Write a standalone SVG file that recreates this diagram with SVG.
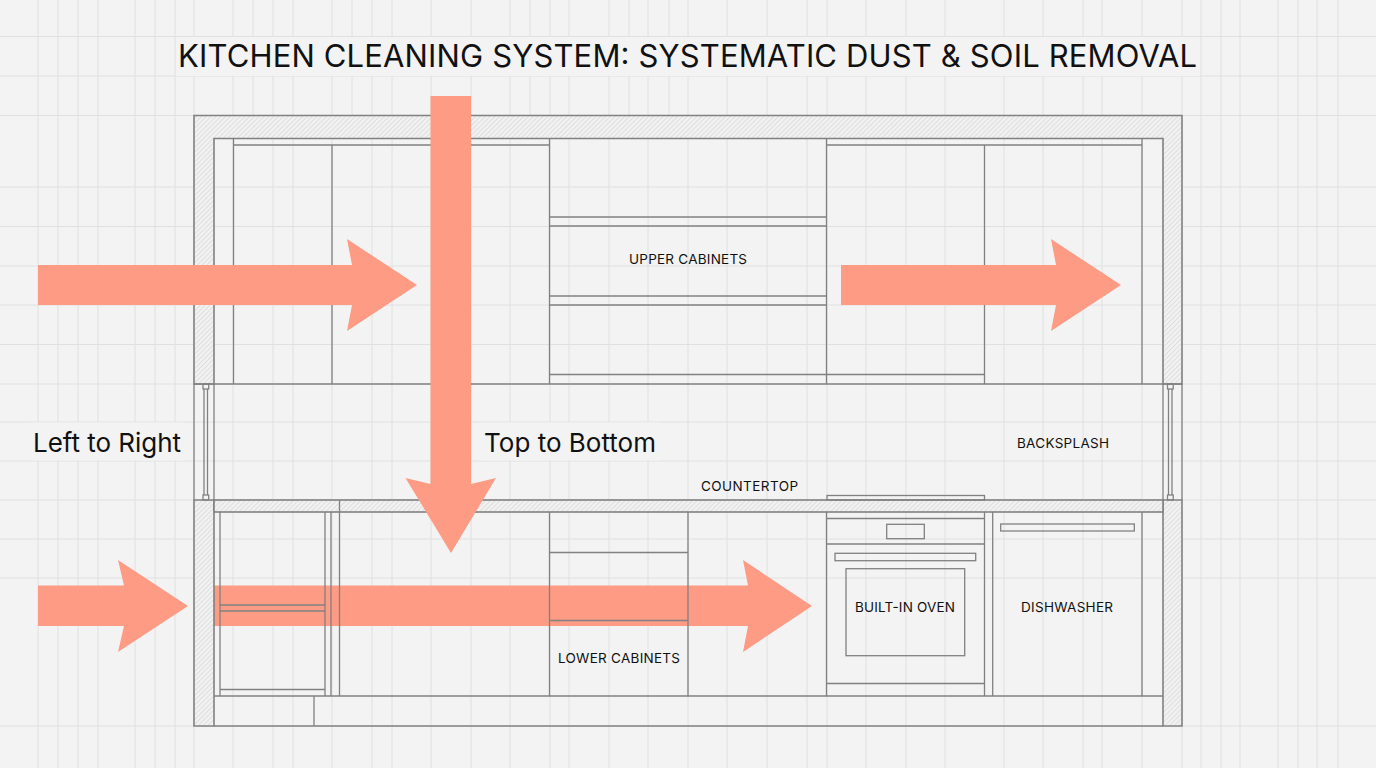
<svg xmlns="http://www.w3.org/2000/svg" width="1376" height="768" viewBox="0 0 1376 768">
<style>
.g{stroke:#e0e0e0;stroke-width:1;fill:none}
.l{stroke:#818181;stroke-width:1.3;fill:none}
.w{stroke:#818181;stroke-width:1.6;fill:url(#hatch)}
.a{fill:#fd9b84}
text{font-family:"Inter","Liberation Sans",sans-serif;fill:#111}
.s{font-size:13.500px;text-anchor:middle}
.m{font-size:26px}
.bg{fill:#f3f3f3}
</style>
<defs>
<pattern id="hatch" width="3.4" height="3.4" patternUnits="userSpaceOnUse" patternTransform="rotate(45)">
<rect width="3.4" height="3.4" fill="#f1f1f1"/><line x1="0" y1="0" x2="0" y2="3.4" stroke="#cecece" stroke-width="1"/>
</pattern>
</defs>
<rect width="1376" height="768" fill="#f3f3f3"/>
<g id="grid" class="g">
<path d="M38 0V768M58 0V768M78 0V768M98 0V768M135 0V768M155 0V768M175 0V768M194 0V768M233 0V768M273 0V768M293 0V768M332 0V768M372 0V768M392 0V768M431 0V768M471 0V768M510 0V768M550 0V768M569 0V768M609 0V768M648 0V768M688 0V768M727 0V768M767 0V768M807 0V768M827 0V768M866 0V768M906 0V768M945 0V768M1004 0V768M1043 0V768M1083 0V768M1102 0V768M1142 0V768M1182 0V768M1201 0V768M1221 0V768M1240 0V768M1278 0V768M1298 0V768M1317 0V768M1338 0V768"/>
<path d="M253 0V115M352 0V115M530 0V115M629 0V115M669 0V115"/>
<path d="M0 36.500H1376M0 76H1376M0 115.500H1376M0 187H1376M0 226.500H1376M0 266H1376M0 305H1376M0 344.500H1376M0 384H1376M0 422H1376M0 461H1376M0 500H1376M0 539H1376M0 578H1376M0 726H1376"/>
</g>
<rect class="bg" x="176" y="37" width="1024" height="39"/>
<rect class="bg" x="30" y="422.500" width="154" height="38"/>
<rect class="bg" x="481" y="422.500" width="178" height="38"/>
<g id="lower-pass-arrow"><polygon class="a" points="214,585.500 748,585.500 743,560 812,606 743,652 748,626 214,626"/></g>
<g id="walls">
<path class="w" fill-rule="evenodd" d="M194 115.500H1182V384H1163V138.500H214V384H194Z"/>
<path class="w" d="M194 500H214V726H194Z"/>
<path class="w" d="M1163 500H1182V726H1163Z"/>
<rect class="w" x="214" y="500" width="949" height="12"/>
<path class="l" d="M194 384H1182M194 384V500M214 384V500M1163 384V500M1182 384V500M214 726H1163M214 696H1163M314 696V726"/>
</g>
<g id="window-left" class="l"><path d="M204 389V495M207.500 389V495"/><rect x="203" y="384" width="5.700" height="5"/><rect x="203" y="495" width="5.700" height="5"/></g>
<g id="window-right" class="l"><path d="M1168.500 389V495M1172 389V495"/><rect x="1167.500" y="384" width="5.700" height="5"/><rect x="1167.500" y="495" width="5.700" height="5"/></g>
<g id="upper-cabinets" class="l">
<path d="M233.500 145H549.500M827 145H1142M233.500 138.500V384M332 145V384M549.500 138.500V384M826.500 138.500V384M984.500 145V384M1142 138.500V384"/>
<path d="M549.500 217H826.500M549.500 226H826.500M549.500 296H826.500M549.500 305H826.500M549.500 374.500H984.500"/>
</g>
<g id="lower-cabinets" class="l">
<path d="M220 512V696M325 512V696M331 512V696M339.500 500V696M220 605H325M220 611H325M220 689.500H325"/>
<path d="M549.500 512V696M688 512V696M549.500 552.500H688M549.500 620.500H688"/>
</g>
<g id="oven" class="l">
<path d="M826.500 512V696M984.500 512V696M826.500 518.500H984.500M826.500 544H984.500M826.500 683.500H984.500"/>
<rect x="827" y="495.500" width="157.500" height="4.500"/>
<rect x="886.700" y="524.300" width="37.600" height="14.400"/>
<rect x="835" y="553.300" width="140.700" height="7.400"/>
<rect x="846" y="568.700" width="118.700" height="87"/>
</g>
<g id="dishwasher" class="l">
<path d="M992.700 512V696M1142 512V696"/>
<rect x="1000.700" y="524" width="133.600" height="7"/>
</g>
<g id="connectors">
<polygon class="a" points="38,265 352,265 347,239 417,285 347,331 352,305 38,305"/>
<polygon class="a" points="841,265 1056,265 1051,239 1121,285 1051,331 1056,305 841,305"/>
<polygon class="a" points="38,585.500 124,585.500 118,560 188,606 118,652 124,626 38,626"/>
<polygon class="a" points="430.500,96 471,96 471,484 496,478 451,553 405.500,478 430.500,484"/>
</g>
<g id="labels">
<text x="178" y="66.500" font-size="31" textLength="1019" lengthAdjust="spacing">KITCHEN CLEANING SYSTEM: SYSTEMATIC DUST &amp; SOIL REMOVAL</text>
<text class="m" x="33" y="452" textLength="148">Left to Right</text>
<text class="m" x="484" y="452" textLength="172">Top to Bottom</text>
<text class="s" x="688" y="264" textLength="118">UPPER CABINETS</text>
<text class="s" x="1063" y="448" textLength="92">BACKSPLASH</text>
<text class="s" x="749.500" y="491" textLength="97">COUNTERTOP</text>
<text class="s" x="905" y="612" textLength="100">BUILT-IN OVEN</text>
<text class="s" x="1067" y="612" textLength="92">DISHWASHER</text>
<text class="s" x="619" y="663" textLength="122">LOWER CABINETS</text>
</g>
</svg>
